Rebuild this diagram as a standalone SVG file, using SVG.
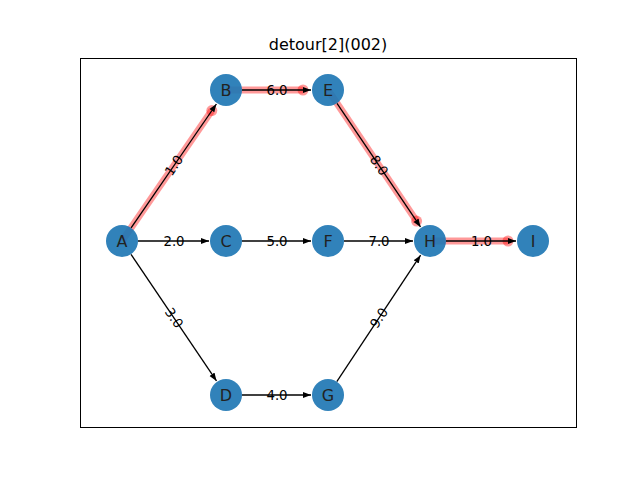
<svg xmlns="http://www.w3.org/2000/svg" width="640" height="480" viewBox="0 0 640 480">
  <style>
    .frame { fill: none; stroke: #000; stroke-width: 1; }
    .title { font-family: "DejaVu Sans", sans-serif; font-size: 16px; fill: #000; text-anchor: middle; }
    .edge { stroke: #000; stroke-width: 1.3; fill: none; marker-end: url(#arrow); }
    .hl { stroke: #ff0000; stroke-opacity: 0.4; stroke-width: 7; fill: none; }
    .hlcap { fill: #ff0000; fill-opacity: 0.4; }
    .elabel { font-family: "DejaVu Sans", sans-serif; font-size: 13.3px; fill: #000; text-anchor: middle; dominant-baseline: central; }
    .node circle { fill: #1f77b4; fill-opacity: 0.92; }
    .node text { font-family: "DejaVu Sans", sans-serif; font-size: 16px; fill: #222; text-anchor: middle; dominant-baseline: central; }
  </style>
  <defs>
    <marker id="arrow" markerUnits="userSpaceOnUse" markerWidth="10" markerHeight="8" viewBox="0 0 10 8" refX="8" refY="4" orient="auto">
      <path d="M0,1 L8,4 L0,7 Z" fill="#000"/>
    </marker>
  </defs>

  <rect width="640" height="480" fill="#fff"/>
  <text class="title" x="328" y="50">detour[2](002)</text>
  <rect class="frame" x="80.5" y="58.5" width="496" height="369"/>

  <!-- highlighted route A-B-E-H-I -->
  <g id="highlight">
    <line class="hl" x1="122" y1="241" x2="211.8" y2="110.6"/>
    <circle class="hlcap" cx="211.8" cy="110.6" r="5.5"/>
    <line class="hl" x1="226" y1="90" x2="303" y2="90"/>
    <circle class="hlcap" cx="303" cy="90" r="5.5"/>
    <line class="hl" x1="328" y1="90" x2="416.6" y2="221.1"/>
    <circle class="hlcap" cx="416.6" cy="221.1" r="5.5"/>
    <line class="hl" x1="430" y1="241" x2="508" y2="241"/>
    <circle class="hlcap" cx="508" cy="241" r="5.5"/>
  </g>

  <!-- directed edges -->
  <g id="edges">
    <line class="edge" x1="131.1" y1="227.8" x2="216.4" y2="104.0"/>
    <line class="edge" x1="138" y1="241" x2="209" y2="241"/>
    <line class="edge" x1="131.0" y1="254.3" x2="216.5" y2="380.9"/>
    <line class="edge" x1="242" y1="90" x2="311" y2="90"/>
    <line class="edge" x1="242" y1="241" x2="311" y2="241"/>
    <line class="edge" x1="242" y1="395" x2="311" y2="395"/>
    <line class="edge" x1="337.0" y1="103.3" x2="420.5" y2="226.9"/>
    <line class="edge" x1="344" y1="241" x2="413" y2="241"/>
    <line class="edge" x1="336.8" y1="381.7" x2="420.6" y2="255.2"/>
    <line class="edge" x1="446" y1="241" x2="516" y2="241"/>
  </g>

  <!-- edge weights -->
  <g id="edge-labels">
    <text class="elabel" transform="translate(174,165.5) rotate(-55.4)">1.0</text>
    <text class="elabel" x="174" y="241">2.0</text>
    <text class="elabel" transform="translate(174,318) rotate(56)">3.0</text>
    <text class="elabel" x="277" y="90">6.0</text>
    <text class="elabel" x="277" y="241">5.0</text>
    <text class="elabel" x="277" y="395">4.0</text>
    <text class="elabel" transform="translate(379,165.5) rotate(56)">8.0</text>
    <text class="elabel" x="379" y="241">7.0</text>
    <text class="elabel" transform="translate(379,318) rotate(-56.5)">9.0</text>
    <text class="elabel" x="481.5" y="241">1.0</text>
  </g>

  <!-- nodes -->
  <g id="node-A" class="node"><circle cx="122" cy="241" r="16"/><text x="122" y="241">A</text></g>
  <g id="node-B" class="node"><circle cx="226" cy="90" r="16"/><text x="226" y="90">B</text></g>
  <g id="node-C" class="node"><circle cx="226" cy="241" r="16"/><text x="226" y="241">C</text></g>
  <g id="node-D" class="node"><circle cx="226" cy="395" r="16"/><text x="226" y="395">D</text></g>
  <g id="node-E" class="node"><circle cx="328" cy="90" r="16"/><text x="328" y="90">E</text></g>
  <g id="node-F" class="node"><circle cx="328" cy="241" r="16"/><text x="328" y="241">F</text></g>
  <g id="node-G" class="node"><circle cx="328" cy="395" r="16"/><text x="328" y="395">G</text></g>
  <g id="node-H" class="node"><circle cx="430" cy="241" r="16"/><text x="430" y="241">H</text></g>
  <g id="node-I" class="node"><circle cx="533" cy="241" r="16"/><text x="533" y="241">I</text></g>
</svg>
